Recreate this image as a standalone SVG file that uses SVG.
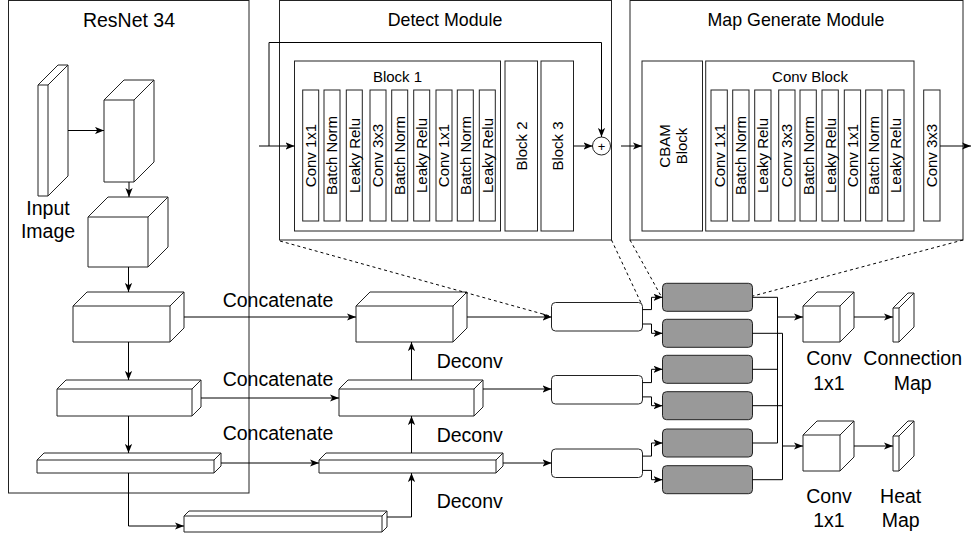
<svg xmlns="http://www.w3.org/2000/svg" width="972" height="537" viewBox="0 0 972 537">
<defs>
<marker id="ah" viewBox="0 0 10 8" refX="10" refY="4" markerWidth="9" markerHeight="7.2" markerUnits="userSpaceOnUse" orient="auto"><path d="M0,0 L10,4 L0,8 L2.5,4 Z" fill="#000"/></marker>
</defs>
<style>
.box{fill:#fff;stroke:#222;stroke-width:1}
.cube{fill:#fff;stroke:#222;stroke-width:1;stroke-linejoin:miter}
.ci{fill:none;stroke:#222;stroke-width:1}
.ln{fill:none;stroke:#000;stroke-width:1}
.arr{marker-end:url(#ah)}
.dash{fill:none;stroke:#000;stroke-width:1;stroke-dasharray:3 3}
.t{font-family:"Liberation Sans",Arial,Helvetica,sans-serif;fill:#000}
.title{font-size:17.8px;text-anchor:middle}
.big{font-size:19.5px}
.mid{text-anchor:middle}
.bar{font-size:15px;text-anchor:middle}
.wr{fill:#fff;stroke:#222;stroke-width:1}
.gr{fill:#999;stroke:#222;stroke-width:1}
</style>
<rect width="972" height="537" fill="#fff"/>

<!-- Modules -->
<g id="resnet34">
<rect class="box" x="8.5" y="0.5" width="240.5" height="492.5"/>
<text class="t big mid" x="129" y="26.5">ResNet 34</text>
</g>
<g id="detect-module">
<rect class="box" x="279.5" y="0.5" width="332" height="239.5"/>
<text class="t title" x="445" y="26">Detect Module</text>
</g>
<g id="map-generate-module">
<rect class="box" x="630" y="0.5" width="333" height="239.5"/>
<text class="t title" x="796" y="26">Map Generate Module</text>
</g>

<!-- Detect module internals -->
<g id="block1">
<rect class="box" x="294.5" y="61" width="206" height="170"/>
<text class="t mid" style="font-size:15px" x="397.5" y="81.5">Block 1</text>
<rect class="box" x="302.7" y="90" width="16" height="131"/>
<rect class="box" x="324" y="90" width="16" height="131"/>
<rect class="box" x="346.3" y="90" width="16" height="131"/>
<rect class="box" x="370" y="90" width="16" height="131"/>
<rect class="box" x="391.7" y="90" width="16" height="131"/>
<rect class="box" x="413.7" y="90" width="16" height="131"/>
<rect class="box" x="436" y="90" width="16" height="131"/>
<rect class="box" x="457.3" y="90" width="16" height="131"/>
<rect class="box" x="479.3" y="90" width="16" height="131"/>
<text class="t bar" transform="translate(310.7,155.5) rotate(-90)" y="5.3">Conv 1x1</text>
<text class="t bar" transform="translate(332,155.5) rotate(-90)" y="5.3">Batch Norm</text>
<text class="t bar" transform="translate(354.3,155.5) rotate(-90)" y="5.3">Leaky Relu</text>
<text class="t bar" transform="translate(378,155.5) rotate(-90)" y="5.3">Conv 3x3</text>
<text class="t bar" transform="translate(399.7,155.5) rotate(-90)" y="5.3">Batch Norm</text>
<text class="t bar" transform="translate(421.7,155.5) rotate(-90)" y="5.3">Leaky Relu</text>
<text class="t bar" transform="translate(444,155.5) rotate(-90)" y="5.3">Conv 1x1</text>
<text class="t bar" transform="translate(465.3,155.5) rotate(-90)" y="5.3">Batch Norm</text>
<text class="t bar" transform="translate(487.3,155.5) rotate(-90)" y="5.3">Leaky Relu</text>
</g>
<g id="block2">
<rect class="box" x="505" y="61" width="32.5" height="170"/>
<text class="t bar" transform="translate(521.2,146) rotate(-90)" y="5.3">Block 2</text>
</g>
<g id="block3">
<rect class="box" x="541" y="61" width="32.5" height="170"/>
<text class="t bar" transform="translate(557.2,146) rotate(-90)" y="5.3">Block 3</text>
</g>
<g id="sum">
<circle class="box" cx="601.5" cy="146" r="9"/>
<text class="t mid" style="font-size:13px" x="601.5" y="150.5">+</text>
</g>

<!-- Map generate internals -->
<g id="cbam-block">
<rect class="box" x="642" y="61" width="60.5" height="170"/>
<text class="t bar" transform="translate(672.5,146) rotate(-90)"><tspan x="0" y="-3">CBAM</tspan><tspan x="0" y="14">Block</tspan></text>
</g>
<g id="conv-block">
<rect class="box" x="705.7" y="61" width="208.3" height="170"/>
<text class="t mid" style="font-size:15px" x="810" y="81.5">Conv Block</text>
<rect class="box" x="711" y="90" width="16.3" height="131"/>
<rect class="box" x="732.7" y="90" width="16.3" height="131"/>
<rect class="box" x="754.7" y="90" width="16.3" height="131"/>
<rect class="box" x="778.7" y="90" width="16.3" height="131"/>
<rect class="box" x="800" y="90" width="16.3" height="131"/>
<rect class="box" x="822" y="90" width="16.3" height="131"/>
<rect class="box" x="844.3" y="90" width="16.3" height="131"/>
<rect class="box" x="865.7" y="90" width="16.3" height="131"/>
<rect class="box" x="887.7" y="90" width="16.3" height="131"/>
<text class="t bar" transform="translate(719.2,155.5) rotate(-90)" y="5.3">Conv 1x1</text>
<text class="t bar" transform="translate(740.9,155.5) rotate(-90)" y="5.3">Batch Norm</text>
<text class="t bar" transform="translate(762.9,155.5) rotate(-90)" y="5.3">Leaky Relu</text>
<text class="t bar" transform="translate(786.9,155.5) rotate(-90)" y="5.3">Conv 3x3</text>
<text class="t bar" transform="translate(808.2,155.5) rotate(-90)" y="5.3">Batch Norm</text>
<text class="t bar" transform="translate(830.2,155.5) rotate(-90)" y="5.3">Leaky Relu</text>
<text class="t bar" transform="translate(852.5,155.5) rotate(-90)" y="5.3">Conv 1x1</text>
<text class="t bar" transform="translate(873.9,155.5) rotate(-90)" y="5.3">Batch Norm</text>
<text class="t bar" transform="translate(895.9,155.5) rotate(-90)" y="5.3">Leaky Relu</text>
</g>
<g id="conv3x3-out">
<rect class="box" x="923.7" y="90" width="16.3" height="131"/>
<text class="t bar" transform="translate(931.9,155.5) rotate(-90)" y="5.3">Conv 3x3</text>
</g>

<!-- ResNet cubes -->
<g id="input-image">
<path class="cube" d="M38,85 L58,65 L68,65 L68,176 L48,196 L38,196 Z"/>
<path class="ci" d="M38,85 L48,85 L68,65 M48,85 L48,196"/>
<text class="t big mid" x="48" y="215">Input</text>
<text class="t big mid" x="48" y="237.5">Image</text>
</g>
<g id="res-c2">
<path class="cube" d="M104,100 L124,80 L154,80 L154,162 L134,182 L104,182 Z"/>
<path class="ci" d="M104,100 L134,100 L154,80 M134,100 L134,182"/>
</g>
<g id="res-c3">
<path class="cube" d="M88,217 L108,197 L168,197 L168,247 L148,267 L88,267 Z"/>
<path class="ci" d="M88,217 L148,217 L168,197 M148,217 L148,267"/>
</g>
<g id="res-c4">
<path class="cube" d="M73,306 L87,292 L184,292 L184,328 L170,342 L73,342 Z"/>
<path class="ci" d="M73,306 L170,306 L184,292 M170,306 L170,342"/>
</g>
<g id="res-c5">
<path class="cube" d="M57,389 L66,380 L201,380 L201,407 L192,416 L57,416 Z"/>
<path class="ci" d="M57,389 L192,389 L201,380 M192,389 L192,416"/>
</g>
<g id="res-c6">
<path class="cube" d="M37,460 L44,453 L221,453 L221,466 L214,473 L37,473 Z"/>
<path class="ci" d="M37,460 L214,460 L221,453 M214,460 L214,473"/>
</g>
<g id="res-c7">
<path class="cube" d="M184,516 L189,511 L387,511 L387,527 L382,532 L184,532 Z"/>
<path class="ci" d="M184,516 L382,516 L387,511 M382,516 L382,532"/>
</g>
<g id="up-c8">
<path class="cube" d="M319,460 L326,453 L503,453 L503,466 L496,473 L319,473 Z"/>
<path class="ci" d="M319,460 L496,460 L503,453 M496,460 L496,473"/>
</g>
<g id="up-c9">
<path class="cube" d="M339,389 L348,380 L483,380 L483,407 L474,416 L339,416 Z"/>
<path class="ci" d="M339,389 L474,389 L483,380 M474,389 L474,416"/>
</g>
<g id="up-c10">
<path class="cube" d="M356,306 L370,292 L467,292 L467,328 L453,342 L356,342 Z"/>
<path class="ci" d="M356,306 L453,306 L467,292 M453,306 L453,342"/>
</g>

<!-- Detect / map boxes -->
<g id="detect-1"><rect class="wr" x="551.5" y="302.5" width="91" height="28.5" rx="4"/></g>
<g id="detect-2"><rect class="wr" x="551.5" y="375.5" width="91" height="28.5" rx="4"/></g>
<g id="detect-3"><rect class="wr" x="551.5" y="449" width="91" height="28.5" rx="4"/></g>
<g id="map-1"><rect class="gr" x="662.5" y="283.3" width="90" height="28" rx="4"/></g>
<g id="map-2"><rect class="gr" x="662.5" y="319.3" width="90" height="28" rx="4"/></g>
<g id="map-3"><rect class="gr" x="662.5" y="355.3" width="90" height="28" rx="4"/></g>
<g id="map-4"><rect class="gr" x="662.5" y="391.7" width="90" height="28" rx="4"/></g>
<g id="map-5"><rect class="gr" x="662.5" y="429" width="90" height="28" rx="4"/></g>
<g id="map-6"><rect class="gr" x="662.5" y="465.7" width="90" height="28" rx="4"/></g>

<!-- Output cubes -->
<g id="conv1x1-a">
<path class="cube" d="M803,306 L817,292 L854,292 L854,328 L840,342 L803,342 Z"/>
<path class="ci" d="M803,306 L840,306 L854,292 M840,306 L840,342"/>
<text class="t big mid" x="829" y="365">Conv</text>
<text class="t big mid" x="829" y="390">1x1</text>
</g>
<g id="connection-map">
<path class="cube" d="M893,308 L908,293 L914,293 L914,327 L899,342 L893,342 Z"/>
<path class="ci" d="M893,308 L899,308 L914,293 M899,308 L899,342"/>
<text class="t big mid" x="912.7" y="365">Connection</text>
<text class="t big mid" x="912.7" y="390">Map</text>
</g>
<g id="conv1x1-b">
<path class="cube" d="M803,435 L817,421 L854,421 L854,457 L840,471 L803,471 Z"/>
<path class="ci" d="M803,435 L840,435 L854,421 M840,435 L840,471"/>
<text class="t big mid" x="829" y="502.7">Conv</text>
<text class="t big mid" x="829" y="527.3">1x1</text>
</g>
<g id="heat-map">
<path class="cube" d="M893,436 L908,421 L914,421 L914,456 L899,471 L893,471 Z"/>
<path class="ci" d="M893,436 L899,436 L914,421 M899,436 L899,471"/>
<text class="t big mid" x="900.7" y="502.7">Heat</text>
<text class="t big mid" x="900.7" y="527.3">Map</text>
</g>

<!-- Connectors -->
<g id="connectors">
<path class="ln arr" d="M68,130.5 L104,130.5"/>
<path class="ln arr" d="M129,182 L129,197"/>
<path class="ln arr" d="M128.5,267 L128.5,292"/>
<path class="ln arr" d="M128.5,342 L128.5,380"/>
<path class="ln arr" d="M128.5,416 L128.5,453"/>
<path class="ln arr" d="M128.5,473 L128.5,526 L184,526"/>
<path class="ln arr" d="M387,517 L411.5,517 L411.5,473"/>
<path class="ln arr" d="M411.5,453 L411.5,416"/>
<path class="ln arr" d="M411.5,380 L411.5,342"/>
<path class="ln arr" d="M184,317 L356,317"/>
<path class="ln arr" d="M201,398 L339,398"/>
<path class="ln arr" d="M221,463 L319,463"/>
<path class="ln arr" d="M467,317 L551.5,317"/>
<path class="ln arr" d="M483,389 L551.5,389"/>
<path class="ln arr" d="M503,463 L551.5,463"/>
<path class="ln arr" d="M642.5,309.6 L651.5,309.6 L651.5,297.3 L662.5,297.3"/>
<path class="ln arr" d="M642.5,324 L651.5,324 L651.5,333.3 L662.5,333.3"/>
<path class="ln arr" d="M642.5,382.6 L651.5,382.6 L651.5,369.3 L662.5,369.3"/>
<path class="ln arr" d="M642.5,396.9 L651.5,396.9 L651.5,405.7 L662.5,405.7"/>
<path class="ln arr" d="M642.5,456.1 L651.5,456.1 L651.5,443 L662.5,443"/>
<path class="ln arr" d="M642.5,470.4 L651.5,470.4 L651.5,479.7 L662.5,479.7"/>
<path class="ln" d="M752.5,297.3 L777.5,297.3 L777.5,443 L752.5,443 M752.5,369.3 L777.5,369.3"/>
<path class="ln" d="M752.5,333.3 L782.5,333.3 L782.5,479.7 L752.5,479.7 M752.5,405.7 L782.5,405.7"/>
<path class="ln arr" d="M777.5,317 L803,317"/>
<path class="ln arr" d="M782.5,446 L803,446"/>
<path class="ln arr" d="M854,317 L893,317"/>
<path class="ln arr" d="M854,446 L893,446"/>
<path class="ln arr" d="M259,146 L294.5,146"/>
<path class="ln arr" d="M269,146 L269,42.5 L601.5,42.5 L601.5,137"/>
<path class="ln arr" d="M573.5,146 L592.5,146"/>
<path class="ln arr" d="M621,146 L642,146"/>
<path class="ln arr" d="M940,146 L971,146"/>
<path class="dash" d="M280,241 L550,316"/>
<path class="dash" d="M611.5,240 L642,305"/>
<path class="dash" d="M630,240 L661,296"/>
<path class="dash" d="M963,240 L753,296"/>
</g>

<!-- Labels -->
<g id="labels">
<text class="t big" x="222.7" y="307">Concatenate</text>
<text class="t big" x="222.7" y="386">Concatenate</text>
<text class="t big" x="222.7" y="440">Concatenate</text>
<text class="t big" x="436.7" y="367.5">Deconv</text>
<text class="t big" x="436.7" y="441.5">Deconv</text>
<text class="t big" x="436.7" y="507.7">Deconv</text>
</g>
</svg>
